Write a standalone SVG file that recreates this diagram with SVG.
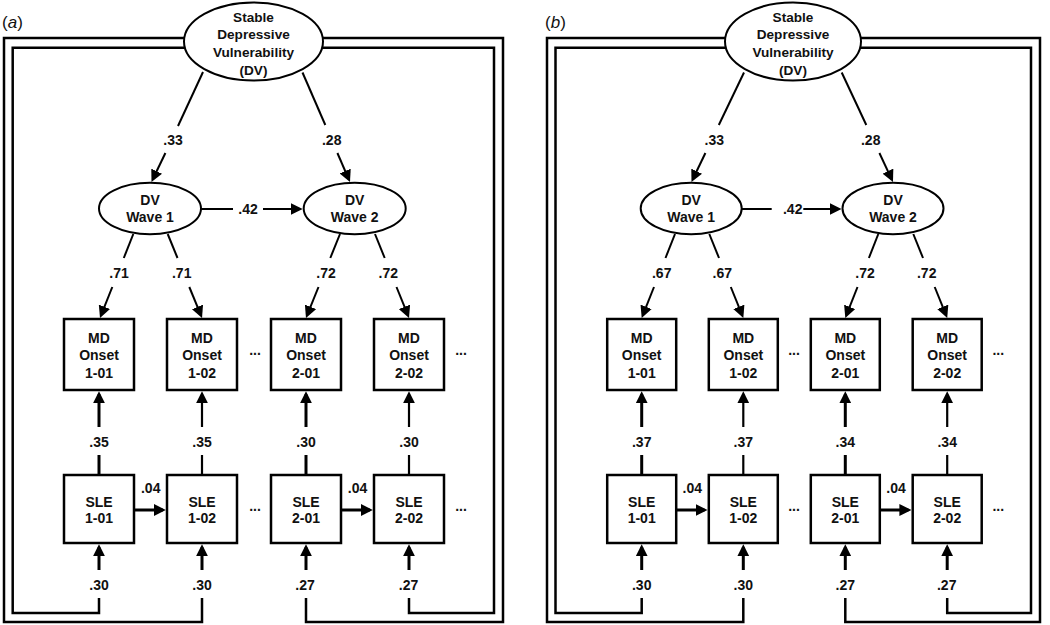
<svg xmlns="http://www.w3.org/2000/svg" width="1050" height="625" viewBox="0 0 1050 625">
<defs>
<style>
.box{fill:#fff;stroke:#000;stroke-width:2.5}
.ell{fill:#fff;stroke:#000;stroke-width:2}
.t{font-family:"Liberation Sans",Arial,sans-serif;font-weight:bold;font-size:14px;text-anchor:middle;fill:#111}
.v{font-size:13.6px}
.lab{font-family:"Liberation Sans",Arial,sans-serif;font-size:17px;fill:#111}
.c{stroke:#000;stroke-width:2;fill:none}
.k{stroke:#000;stroke-width:3;fill:none}
.m{stroke:#000;stroke-width:2.2;fill:none}
.f{stroke:#000;stroke-width:2.5;fill:none}
.a{marker-end:url(#ah)}
</style>
<marker id="ah" viewBox="0 0 12 12" refX="9" refY="6" markerWidth="12" markerHeight="12" markerUnits="userSpaceOnUse" orient="auto"><path d="M0,0 L12,6 L0,12 z" fill="#000"/></marker>
</defs>
<rect width="1050" height="625" fill="#fff"/>
<text class="lab" x="2" y="28">(<tspan font-style="italic">a</tspan>)</text>
<text class="lab" x="545" y="28">(<tspan font-style="italic">b</tspan>)</text>

<g id="connectors">
<!-- panel a frames -->
<path class="f" d="M185,47.7 H12.7 V613 H99 V598"/>
<path class="f" d="M185,38 H4 V622 H202 V598"/>
<path class="f" d="M322,47.7 H494 V613 H409 V598"/>
<path class="f" d="M322,38 H503 V622 H306 V598"/>
<!-- panel a top diagonals -->
<line class="c" x1="203" y1="72" x2="178" y2="126"/>
<line class="c a" x1="165.4" y1="153" x2="152.8" y2="179.3"/>
<line class="c" x1="302.5" y1="72.5" x2="325.3" y2="125"/>
<line class="c a" x1="337.4" y1="153" x2="348.8" y2="179.3"/>
<!-- wave arrow a -->
<line class="c" x1="201" y1="209" x2="233" y2="209"/>
<line class="c a" x1="263" y1="209" x2="299.7" y2="209"/>
<!-- wave -> MD a -->
<line class="c" x1="133.3" y1="234" x2="123.8" y2="258"/>
<line class="c a" x1="112.3" y1="287" x2="101.1" y2="315.2"/>
<line class="c" x1="167.7" y1="234" x2="177.5" y2="258"/>
<line class="c a" x1="189.3" y1="287" x2="200.9" y2="315.2"/>
<line class="c" x1="340" y1="234" x2="330.3" y2="258"/>
<line class="c a" x1="318.5" y1="287" x2="307.1" y2="315.2"/>
<line class="c" x1="375" y1="234" x2="384.7" y2="258"/>
<line class="c a" x1="396.5" y1="287" x2="407.9" y2="315.2"/>
<!-- SLE -> MD a -->
<line class="k" x1="99" y1="475" x2="99" y2="455"/>
<line class="k a" x1="99" y1="427" x2="99" y2="394.3"/>
<line class="m" x1="202" y1="475" x2="202" y2="455"/>
<line class="m a" x1="202" y1="427" x2="202" y2="394.3"/>
<line class="k" x1="306" y1="475" x2="306" y2="455"/>
<line class="k a" x1="306" y1="427" x2="306" y2="394.3"/>
<line class="m" x1="409" y1="475" x2="409" y2="455"/>
<line class="m a" x1="409" y1="427" x2="409" y2="394.3"/>
<!-- SLE horizontal a -->
<line class="k a" x1="134" y1="510" x2="162.8" y2="510"/>
<line class="k a" x1="341" y1="510" x2="369.8" y2="510"/>
<!-- bottom arrows a -->
<line class="k a" x1="99" y1="570" x2="99" y2="547.3"/>
<line class="k a" x1="202" y1="570" x2="202" y2="547.3"/>
<line class="k a" x1="306" y1="570" x2="306" y2="547.3"/>
<line class="k a" x1="409" y1="570" x2="409" y2="547.3"/>

<!-- panel b frames -->
<path class="f" d="M726,47.7 H555.5 V613 H641.7 V598"/>
<path class="f" d="M726,38 H547 V622 H743.3 V598"/>
<path class="f" d="M860,47.7 H1031 V613 H947.2 V598"/>
<path class="f" d="M860,38 H1040 V622 H845.3 V598"/>
<!-- panel b top diagonals -->
<line class="c" x1="744" y1="72.5" x2="718.8" y2="125"/>
<line class="c a" x1="705.4" y1="153" x2="692.8" y2="179.3"/>
<line class="c" x1="841.7" y1="72.5" x2="866.3" y2="125"/>
<line class="c a" x1="879.4" y1="153" x2="891.7" y2="179.3"/>
<!-- wave arrow b -->
<line class="c" x1="741.7" y1="209" x2="771.7" y2="209"/>
<line class="c a" x1="803.3" y1="209" x2="838.5" y2="209"/>
<!-- wave -> MD b -->
<line class="c" x1="675" y1="234" x2="665.5" y2="258"/>
<line class="c a" x1="654" y1="287" x2="642.8" y2="315.2"/>
<line class="c" x1="709.3" y1="234" x2="719" y2="258"/>
<line class="c a" x1="730.8" y1="287" x2="742.2" y2="315.2"/>
<line class="c" x1="878.3" y1="234" x2="868.9" y2="258"/>
<line class="c a" x1="857.5" y1="287" x2="846.4" y2="315.2"/>
<line class="c" x1="913.3" y1="234" x2="923" y2="258"/>
<line class="c a" x1="934.7" y1="287" x2="946.1" y2="315.2"/>
<!-- SLE -> MD b -->
<line class="k" x1="641.7" y1="475" x2="641.7" y2="455"/>
<line class="k a" x1="641.7" y1="427" x2="641.7" y2="394.3"/>
<line class="m" x1="743.3" y1="475" x2="743.3" y2="455"/>
<line class="m a" x1="743.3" y1="427" x2="743.3" y2="394.3"/>
<line class="k" x1="845.3" y1="475" x2="845.3" y2="455"/>
<line class="k a" x1="845.3" y1="427" x2="845.3" y2="394.3"/>
<line class="m" x1="947.2" y1="475" x2="947.2" y2="455"/>
<line class="m a" x1="947.2" y1="427" x2="947.2" y2="394.3"/>
<!-- SLE horizontal b -->
<line class="k a" x1="676.2" y1="510" x2="704.5" y2="510"/>
<line class="k a" x1="879.8" y1="510" x2="908.4" y2="510"/>
<!-- bottom arrows b -->
<line class="k a" x1="641.7" y1="570" x2="641.7" y2="547.3"/>
<line class="k a" x1="743.3" y1="570" x2="743.3" y2="547.3"/>
<line class="k a" x1="845.3" y1="570" x2="845.3" y2="547.3"/>
<line class="k a" x1="947.2" y1="570" x2="947.2" y2="547.3"/>
</g>

<g id="labels">
<text class="t" x="173" y="145">.33</text>
<text class="t" x="331.7" y="145">.28</text>
<text class="t" x="248" y="214">.42</text>
<text class="t" x="119" y="278">.71</text>
<text class="t" x="181.7" y="278">.71</text>
<text class="t" x="326" y="278">.72</text>
<text class="t" x="388.3" y="278">.72</text>
<text class="t" x="99" y="446.5">.35</text>
<text class="t" x="202" y="446.5">.35</text>
<text class="t" x="306" y="446.5">.30</text>
<text class="t" x="409" y="446.5">.30</text>
<text class="t" x="150.7" y="493.3">.04</text>
<text class="t" x="357.5" y="493.3">.04</text>
<text class="t" x="99" y="590">.30</text>
<text class="t" x="202" y="590">.30</text>
<text class="t" x="305" y="590">.27</text>
<text class="t" x="408.5" y="590">.27</text>
<text class="t" x="255" y="354.5">...</text>
<text class="t" x="461" y="354.5">...</text>
<text class="t" x="255" y="510.5">...</text>
<text class="t" x="461" y="510.5">...</text>

<text class="t" x="714.3" y="145">.33</text>
<text class="t" x="870.7" y="145">.28</text>
<text class="t" x="792.7" y="214">.42</text>
<text class="t" x="661.7" y="278">.67</text>
<text class="t" x="722.3" y="278">.67</text>
<text class="t" x="865" y="278">.72</text>
<text class="t" x="926.7" y="278">.72</text>
<text class="t" x="641.7" y="446.5">.37</text>
<text class="t" x="743.3" y="446.5">.37</text>
<text class="t" x="845.3" y="446.5">.34</text>
<text class="t" x="947.2" y="446.5">.34</text>
<text class="t" x="692.3" y="493.3">.04</text>
<text class="t" x="896" y="493.3">.04</text>
<text class="t" x="641.7" y="590">.30</text>
<text class="t" x="743.3" y="590">.30</text>
<text class="t" x="845.3" y="590">.27</text>
<text class="t" x="946.7" y="590">.27</text>
<text class="t" x="794" y="354.5">...</text>
<text class="t" x="998.3" y="354.5">...</text>
<text class="t" x="794" y="510.5">...</text>
<text class="t" x="998.3" y="510.5">...</text>
</g>

<!-- panel a nodes -->
<g id="a-dv">
<ellipse class="ell" cx="253.5" cy="41.5" rx="69.5" ry="39"/>
<text class="t v" x="253.5" y="22">Stable</text>
<text class="t v" x="253.5" y="39">Depressive</text>
<text class="t v" x="253.5" y="57">Vulnerability</text>
<text class="t v" x="253.5" y="75">(DV)</text>
</g>
<g id="a-w1"><ellipse class="ell" cx="150" cy="208.5" rx="51" ry="25.7"/><text class="t" x="150" y="205">DV</text><text class="t" x="150" y="221.5">Wave 1</text></g>
<g id="a-w2"><ellipse class="ell" cx="354.7" cy="208.5" rx="51" ry="25.7"/><text class="t" x="354.7" y="205">DV</text><text class="t" x="354.7" y="221.5">Wave 2</text></g>
<g id="a-md101"><rect class="box" x="64" y="319" width="70" height="71"/><text class="t" x="99" y="343">MD</text><text class="t" x="99" y="360">Onset</text><text class="t" x="99" y="377.5">1-01</text></g>
<g id="a-md102"><rect class="box" x="167" y="319" width="70" height="71"/><text class="t" x="202" y="343">MD</text><text class="t" x="202" y="360">Onset</text><text class="t" x="202" y="377.5">1-02</text></g>
<g id="a-md201"><rect class="box" x="271" y="319" width="70" height="71"/><text class="t" x="306" y="343">MD</text><text class="t" x="306" y="360">Onset</text><text class="t" x="306" y="377.5">2-01</text></g>
<g id="a-md202"><rect class="box" x="374" y="319" width="70" height="71"/><text class="t" x="409" y="343">MD</text><text class="t" x="409" y="360">Onset</text><text class="t" x="409" y="377.5">2-02</text></g>
<g id="a-sle101"><rect class="box" x="64" y="475" width="70" height="68"/><text class="t" x="99" y="506.5">SLE</text><text class="t" x="99" y="523">1-01</text></g>
<g id="a-sle102"><rect class="box" x="167" y="475" width="70" height="68"/><text class="t" x="202" y="506.5">SLE</text><text class="t" x="202" y="523">1-02</text></g>
<g id="a-sle201"><rect class="box" x="271" y="475" width="70" height="68"/><text class="t" x="306" y="506.5">SLE</text><text class="t" x="306" y="523">2-01</text></g>
<g id="a-sle202"><rect class="box" x="374" y="475" width="70" height="68"/><text class="t" x="409" y="506.5">SLE</text><text class="t" x="409" y="523">2-02</text></g>

<!-- panel b nodes -->
<g id="b-dv">
<ellipse class="ell" cx="793" cy="41.5" rx="68" ry="39"/>
<text class="t v" x="793" y="22">Stable</text>
<text class="t v" x="793" y="39">Depressive</text>
<text class="t v" x="793" y="57">Vulnerability</text>
<text class="t v" x="793" y="75">(DV)</text>
</g>
<g id="b-w1"><ellipse class="ell" cx="691.2" cy="208.5" rx="50.5" ry="25.7"/><text class="t" x="691.2" y="205">DV</text><text class="t" x="691.2" y="221.5">Wave 1</text></g>
<g id="b-w2"><ellipse class="ell" cx="893" cy="208.5" rx="50.5" ry="25.7"/><text class="t" x="893" y="205">DV</text><text class="t" x="893" y="221.5">Wave 2</text></g>
<g id="b-md101"><rect class="box" x="607.2" y="319" width="69" height="71"/><text class="t" x="641.7" y="343">MD</text><text class="t" x="641.7" y="360">Onset</text><text class="t" x="641.7" y="377.5">1-01</text></g>
<g id="b-md102"><rect class="box" x="708.8" y="319" width="69" height="71"/><text class="t" x="743.3" y="343">MD</text><text class="t" x="743.3" y="360">Onset</text><text class="t" x="743.3" y="377.5">1-02</text></g>
<g id="b-md201"><rect class="box" x="810.8" y="319" width="69" height="71"/><text class="t" x="845.3" y="343">MD</text><text class="t" x="845.3" y="360">Onset</text><text class="t" x="845.3" y="377.5">2-01</text></g>
<g id="b-md202"><rect class="box" x="912.7" y="319" width="69" height="71"/><text class="t" x="947.2" y="343">MD</text><text class="t" x="947.2" y="360">Onset</text><text class="t" x="947.2" y="377.5">2-02</text></g>
<g id="b-sle101"><rect class="box" x="607.2" y="475" width="69" height="68"/><text class="t" x="641.7" y="506.5">SLE</text><text class="t" x="641.7" y="523">1-01</text></g>
<g id="b-sle102"><rect class="box" x="708.8" y="475" width="69" height="68"/><text class="t" x="743.3" y="506.5">SLE</text><text class="t" x="743.3" y="523">1-02</text></g>
<g id="b-sle201"><rect class="box" x="810.8" y="475" width="69" height="68"/><text class="t" x="845.3" y="506.5">SLE</text><text class="t" x="845.3" y="523">2-01</text></g>
<g id="b-sle202"><rect class="box" x="912.7" y="475" width="69" height="68"/><text class="t" x="947.2" y="506.5">SLE</text><text class="t" x="947.2" y="523">2-02</text></g>
</svg>
